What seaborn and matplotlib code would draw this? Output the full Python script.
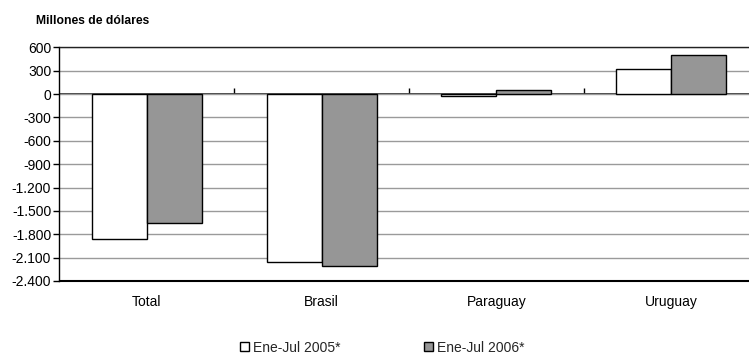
import matplotlib
matplotlib.use("Agg")
import matplotlib.pyplot as plt
import seaborn as sns
import pandas as pd
import numpy as np
from matplotlib.ticker import FixedLocator, FuncFormatter
from matplotlib.patches import Patch

categories = ["Total", "Brasil", "Paraguay", "Uruguay"]
series_names = ["Ene-Jul 2005*", "Ene-Jul 2006*"]
values_2005 = [-1862, -2156, -28, 322]
values_2006 = [-1652, -2212, 53, 501]
y_ticks = [600, 300, 0, -300, -600, -900, -1200, -1500, -1800, -2100, -2400]
title = "Millones de dólares"

df = pd.DataFrame({
    "cat": categories * 2,
    "serie": [series_names[0]] * 4 + [series_names[1]] * 4,
    "valor": values_2005 + values_2006,
})

sns.set_theme(style="white")
plt.rcParams["font.family"] = ["Liberation Sans", "DejaVu Sans"]

fig = plt.figure(figsize=(7.49, 3.54), dpi=100)
ax = fig.add_axes([59.5 / 749, 1 - 281 / 354, 699 / 749, (281 - 47.3) / 354])

colors = ["white", "#969696"]
sns.barplot(data=df, x="cat", y="valor", hue="serie", palette=colors,
            edgecolor="black", linewidth=1.0, width=0.63, gap=0,
            ax=ax, legend=False, zorder=3)

ax.set_xlim(-0.5, 3.5)
ax.set_ylim(min(y_ticks), max(y_ticks))
ax.yaxis.set_major_locator(FixedLocator(y_ticks))
ax.yaxis.set_major_formatter(FuncFormatter(lambda v, p: f"{int(v):,}".replace(",", ".")))
ax.set_axisbelow(True)
ax.yaxis.grid(True, color="#9a9a9a", linewidth=1.0)
ax.xaxis.grid(False)

ax.set_xlabel("")
ax.set_ylabel("")
ax.tick_params(axis="y", which="both", left=True, length=4, width=1, color="black",
               direction="out", labelsize=10, pad=2, labelcolor="black")
ax.tick_params(axis="x", length=0, labelsize=10, pad=10, labelcolor="black")

for s in ["left", "bottom"]:
    ax.spines[s].set_visible(True)
    ax.spines[s].set_color("black")
    ax.spines[s].set_linewidth(1.0)
ax.spines["bottom"].set_linewidth(1.5)
ax.spines["top"].set_visible(True)
ax.spines["top"].set_color("#222222")
ax.spines["top"].set_linewidth(1.0)
ax.spines["right"].set_visible(False)

# zero axis line with category-boundary tick marks
zero_frac = (0 - min(y_ticks)) / (max(y_ticks) - min(y_ticks))
sec = ax.secondary_xaxis(zero_frac)
sec.set_xticks([0.5, 1.5, 2.5])
sec.set_xticklabels([])
sec.tick_params(axis="x", direction="out", length=4, width=1, color="black")
sec.spines["bottom"].set_color("black")
sec.spines["bottom"].set_linewidth(1.0)

fig.text(36 / 749, 1 - 21 / 354, title, fontsize=8.7, fontweight="bold",
         ha="left", va="center", color="black")

handles = [Patch(facecolor=c, edgecolor="black", linewidth=1.0) for c in colors]
fig.legend(handles, series_names, loc="center", bbox_to_anchor=(382 / 749, 1 - 347.5 / 354),
           ncol=2, frameon=False, fontsize=10, handlelength=0.65, handleheight=0.65,
           handletextpad=0.3, columnspacing=6.0, borderpad=0, borderaxespad=0)

fig.savefig("out.png", dpi=100)
